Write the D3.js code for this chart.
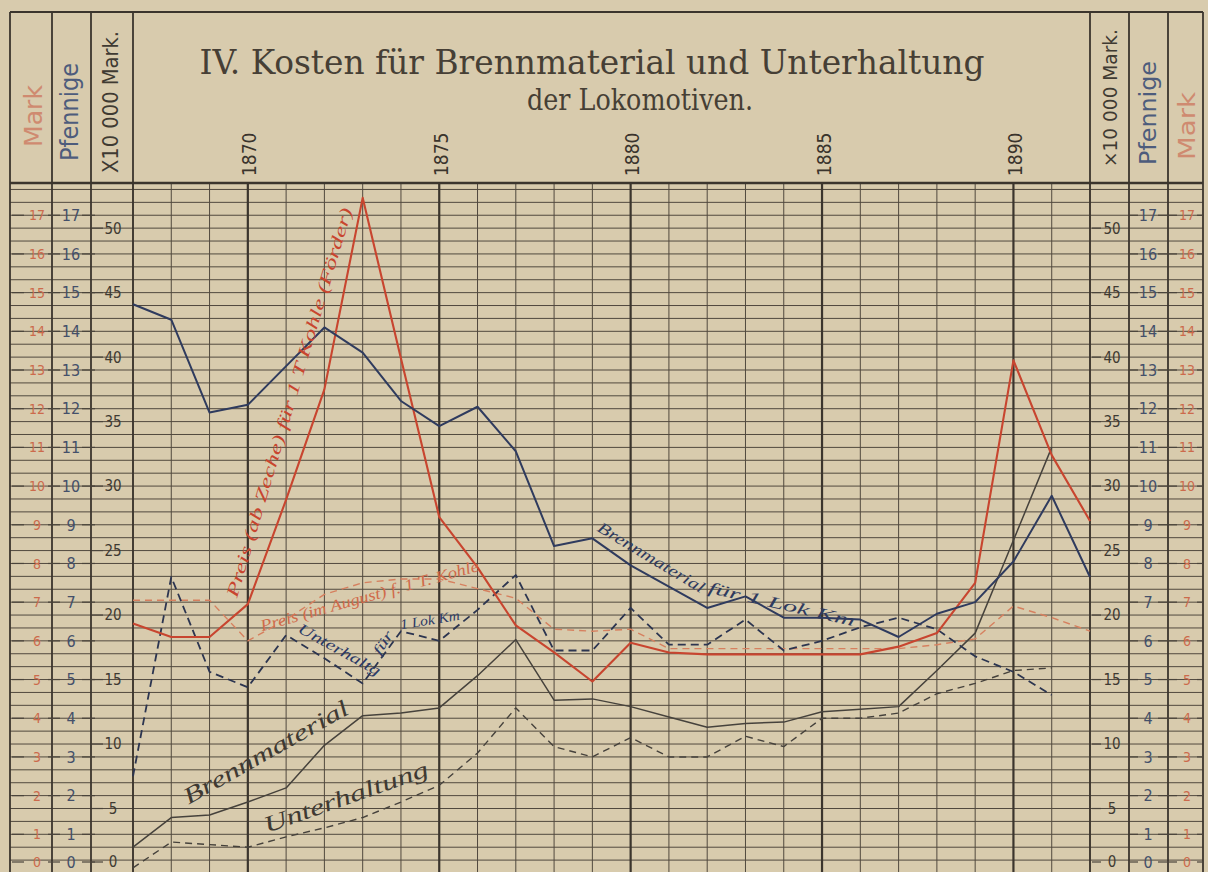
<!DOCTYPE html>
<html lang="de">
<head>
<meta charset="utf-8">
<title>Kosten für Brennmaterial und Unterhaltung der Lokomotiven</title>
<style>
body { margin: 0; background: #d7caab; }
svg { display: block; }
.grid line { stroke: #51493e; stroke-width: 1; }
.grid line.major { stroke: #3b352d; stroke-width: 2.2; }
.frame line { stroke: #3b352d; stroke-width: 1.8; }
.series { fill: none; stroke-linejoin: round; }
text { font-family: "DejaVu Sans Condensed", sans-serif; }
.title { font-family: "DejaVu Serif Condensed", serif; fill: #463f35; }
.note { font-family: "Liberation Serif", serif; font-style: italic; }
</style>
</head>
<body>
<div id="chart"></div>
<script src="https://d3js.org/d3.v7.min.js"></script>
<script>

// Jahre 1867 - 1892
var years = [1867, 1868, 1869, 1870, 1871, 1872, 1873, 1874, 1875, 1876, 1877, 1878, 1879,
             1880, 1881, 1882, 1883, 1884, 1885, 1886, 1887, 1888, 1889, 1890, 1891, 1892];

// Pfennige
var brennLokKm = [14.7, 14.3, 11.9, 12.1, 13.1, 14.1, 13.45, 12.2, 11.55, 12.05, 10.9, 8.45, 8.65,
                  7.95, 7.4, 6.85, 7.15, 6.6, 6.6, 6.55, 6.1, 6.7, 7.0, 8.05, 9.75, 7.65];
var unterhLokKm = [2.5, 7.65, 5.2, 4.8, 6.15, 5.55, 4.9, 6.25, 6.0, 6.8, 7.7, 5.75, 5.75,
                   6.85, 5.9, 5.9, 6.55, 5.75, 6.0, 6.35, 6.6, 6.3, 5.6, 5.2, 4.6, null];

// Mark für 1 T Kohle
var preisZeche = [6.45, 6.1, 6.1, 6.95, 9.65, 12.5, 17.45, 13.3, 9.2, 7.9, 6.4, 5.7, 4.95,
                  5.95, 5.7, 5.65, 5.65, 5.65, 5.65, 5.65, 5.85, 6.2, 7.5, 13.25, 10.8, 9.1];
var preisAugust = [7.05, 7.05, 7.05, 6.0, 6.55, 7.2, 7.5, 7.6, 7.6, 7.35, 7.1, 6.3, 6.25,
                   6.3, 5.8, 5.8, 5.8, 5.8, 5.8, 5.8, 5.8, 5.9, 6.05, 6.9, 6.6, 6.25];

// x 10 000 Mark
var brennGesamt = [2.0, 4.3, 4.5, 5.5, 6.6, 9.9, 12.2, 12.4, 12.8, 15.3, 18.1, 13.4, 13.5,
                   12.9, 12.1, 11.3, 11.6, 11.7, 12.5, 12.7, 12.9, 15.7, 18.6, 25.8, 33.0, null];
var unterhGesamt = [0.4, 2.4, 2.2, 2.0, 2.8, 3.5, 4.3, 5.5, 6.8, 9.3, 12.8, 9.8, 9.0,
                    10.5, 9.0, 9.0, 10.6, 9.8, 12.0, 12.0, 12.4, 13.9, 14.7, 15.7, 15.9, null];

var pfennigTicks = [0, 1, 2, 3, 4, 5, 6, 7, 8, 9, 10, 11, 12, 13, 14, 15, 16, 17];
var markTicks = [0, 5, 10, 15, 20, 25, 30, 35, 40, 45, 50];
var yearLabels = [1870, 1875, 1880, 1885, 1890];

var width = 1208,
    height = 872,
    plotL = 133, plotR = 1090, plotT = 183, plotB = 873,
    frameL = 10, frameR = 1203, frameT = 12;

var svg = d3.select("#chart")
  .append("svg")
    .attr("width", width)
    .attr("height", height);

svg.append("rect")
    .attr("width", width)
    .attr("height", height)
    .attr("fill", "#d8cbad");

var x = d3.scaleLinear().domain([1867, 1892]).range([plotL, plotR]);
var y = d3.scaleLinear().domain([0, 53.5]).range([plotB, plotT]);        // x 10 000 Mark
var yP = d3.scaleLinear().domain([0, 53.5 / 3]).range([plotB, plotT]);   // Pfennige / Mark

// grid
var grid = svg.append("g").attr("class", "grid");

grid.selectAll("line.h")
  .data(d3.range(1, 54))
  .enter().append("line")
    .attr("class", "h")
    .attr("x1", frameL).attr("x2", frameR)
    .attr("y1", function(d) { return y(d); })
    .attr("y2", function(d) { return y(d); });

grid.selectAll("line.v")
  .data(years)
  .enter().append("line")
    .attr("class", function(d) { return d % 5 == 0 ? "v major" : "v"; })
    .attr("x1", function(d) { return x(d); })
    .attr("x2", function(d) { return x(d); })
    .attr("y1", plotT).attr("y2", height);

// frame and columns
var frame = svg.append("g").attr("class", "frame");
[frameL, 52, 91, plotL, plotR, 1129, 1168, frameR].forEach(function(cx) {
  frame.append("line").attr("x1", cx).attr("x2", cx).attr("y1", frameT).attr("y2", height);
});
frame.append("line").attr("x1", frameL).attr("x2", frameR).attr("y1", frameT).attr("y2", frameT);
frame.append("line").attr("x1", frameL).attr("x2", frameR).attr("y1", plotT).attr("y2", plotT)
    .style("stroke-width", 2.4);

// title
svg.append("text")
    .attr("class", "title")
    .attr("x", 592).attr("y", 74)
    .attr("text-anchor", "middle")
    .attr("font-size", 33)
    .attr("textLength", 785)
    .attr("lengthAdjust", "spacingAndGlyphs")
    .text("IV.  Kosten für Brennmaterial und Unterhaltung");

svg.append("text")
    .attr("class", "title")
    .attr("x", 640).attr("y", 110)
    .attr("text-anchor", "middle")
    .attr("font-size", 30)
    .attr("textLength", 226)
    .attr("lengthAdjust", "spacingAndGlyphs")
    .text("der Lokomotiven.");

// year labels
svg.selectAll("text.year")
  .data(yearLabels)
  .enter().append("text")
    .attr("class", "year")
    .attr("transform", function(d) { return "translate(" + (x(d) + 2) + ",176) rotate(-90)"; })
    .attr("dy", "0.35em")
    .attr("font-size", 19)
    .attr("fill", "#3a342c")
    .text(function(d) { return d; });

// column headings
function heading(cx, cy, txt, color, size, len) {
  svg.append("text")
      .attr("transform", "translate(" + cx + "," + cy + ") rotate(-90)")
      .attr("text-anchor", "middle")
      .attr("dy", "0.35em")
      .attr("font-size", size)
      .attr("fill", color)
      .attr("textLength", len)
      .attr("lengthAdjust", "spacingAndGlyphs")
      .text(txt);
}
heading(34, 116, "Mark", "#cf8a70", 24, 62);
heading(70, 112, "Pfennige", "#4d5c7c", 24, 98);
heading(111, 102, "X10 000 Mark.", "#3f3a32", 21, 142);
heading(1110, 98, "×10 000 Mark.", "#3f3a32", 19, 138);
heading(1148, 113, "Pfennige", "#4d5c7c", 23, 104);
heading(1187, 126, "Mark", "#cf8a70", 23, 68);

// tick labels on both sides
function tickColumn(scale, values, cx, color, size, dashes) {
  var g = svg.append("g");
  var t = g.selectAll("g")
    .data(values)
    .enter().append("g")
      .attr("transform", function(d) { return "translate(0," + Math.min(scale(d), 862) + ")"; });
  dashes.forEach(function(dd) {
    t.append("line")
        .attr("x1", dd[0]).attr("x2", dd[1])
        .attr("stroke", "#4a443b").attr("stroke-width", 1.2);
  });
  t.append("text")
      .attr("x", cx)
      .attr("dy", "0.36em")
      .attr("text-anchor", "middle")
      .attr("font-size", size)
      .attr("fill", color)
      .text(function(d) { return d; });
}
tickColumn(yP, pfennigTicks, 37, "#cc6a4c", 14, [[12, 24], [48, 60]]);
tickColumn(yP, pfennigTicks, 71, "#44506a", 16, [[82, 95]]);
tickColumn(y, markTicks, 113, "#3f3a32", 15, [[92, 103]]);
tickColumn(y, markTicks, 1112, "#3f3a32", 15, [[1092, 1101]]);
tickColumn(yP, pfennigTicks, 1148, "#44506a", 16, [[1130, 1138], [1158, 1170]]);
tickColumn(yP, pfennigTicks, 1187, "#cc6a4c", 14, [[1170, 1177], [1197, 1203]]);

// series
function draw(values, scale, color, w, dash) {
  var line = d3.line()
      .defined(function(d) { return d[1] != null; })
      .x(function(d) { return x(d[0]); })
      .y(function(d) { return scale(d[1]); });
  svg.append("path")
      .datum(years.map(function(yr, i) { return [yr, values[i]]; }))
      .attr("class", "series")
      .attr("d", line)
      .attr("stroke", color)
      .attr("stroke-width", w)
      .attr("stroke-dasharray", dash);
}
draw(unterhGesamt, y, "#46423c", 1.4, "7,5");
draw(brennGesamt, y, "#46423c", 1.5, null);
draw(preisAugust, yP, "#d6805f", 1.4, "7,5");
draw(unterhLokKm, yP, "#2c3550", 1.8, "8,5");
draw(preisZeche, yP, "#c8452f", 2.1, null);
draw(brennLokKm, yP, "#2f3b5e", 2.0, null);

// hand lettered labels
function note(px, py, angle, txt, color, size, len) {
  svg.append("text")
      .attr("class", "note")
      .attr("transform", "translate(" + px + "," + py + ") rotate(" + angle + ")")
      .attr("font-size", size)
      .attr("fill", color)
      .attr("textLength", len)
      .attr("lengthAdjust", "spacingAndGlyphs")
      .text(txt);
}
note(x(1869.72), yP(7.1), -73.5, "Preis (ab Zeche) für 1 T Kohle (Förder)", "#c8452f", 17, 405);
note(x(1870.37), yP(6.25), -15.5, "Preis (im August) f. 1 T. Kohle", "#d06a4a", 16, 226);
note(x(1871.28), yP(6.24), 29, "Unterhaltg", "#2c3a66", 15, 92);
note(x(1873.45), yP(5.6), -58, "für", "#2c3a66", 14, 26);
note(x(1874.0), yP(6.3), -9, "1 Lok Km", "#2c3a66", 14, 60);
note(x(1879.1), yP(8.85), 31, "Brennmaterial", "#2f3b5e", 16, 122);
note(x(1882.0), yP(7.25), 13, "für 1 Lok Km", "#2f3b5e", 16, 150);
note(x(1868.45), y(5.3), -29.5, "Brennmaterial", "#3f3a33", 23, 186);
note(x(1870.5), y(3.1), -19.5, "Unterhaltung", "#3f3a33", 23, 173);

</script>
</body>
</html>
